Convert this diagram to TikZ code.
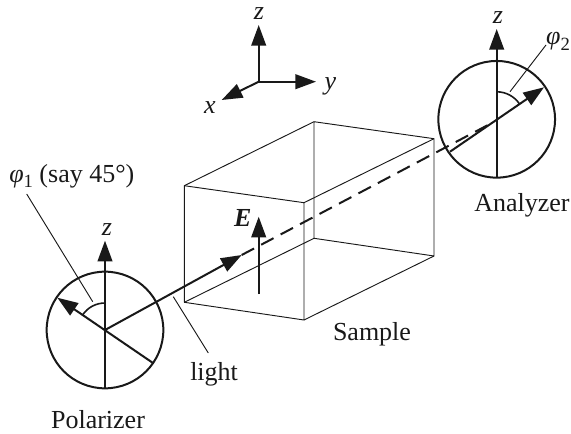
\documentclass[tikz,border=0pt]{standalone}
\usepackage{fontspec}
\setmainfont{Liberation Serif}
\usetikzlibrary{arrows.meta,calc}
\tikzset{
  thin line/.style={line width=0.7pt,draw=black!90},
  thick line/.style={line width=1.5pt,draw=black!90},
  vec/.style={thick line,-{Triangle[length=15.5pt,width=11pt]}},
  disc/.style={circle,draw=black!90,line width=1.5pt,minimum size=87.5pt,inner sep=0pt},
  lbl/.style={inner sep=0pt,font=\fontsize{19.5}{22}\selectfont,text=black!90},
  lblb/.style={lbl,anchor=base},
  lblw/.style={lbl,anchor=base west}
}
\newcommand{\subdigit}[1]{\raisebox{-0.2em}{\fontsize{14}{16}\selectfont #1}}
\begin{document}
\begin{tikzpicture}[x=0.75pt,y=0.75pt]
\useasboundingbox (0,0) rectangle (571,433);
% axes
\coordinate (o) at (258.7,351.3);
\coordinate (oz) at (258.7,408);
\coordinate (oy) at (316,351.3);
\coordinate (ox) at (221.7,333);
\draw[vec] (o) -- (oz);
\draw[vec] (o) -- (oy);
\draw[vec] (o) -- (ox);
\node[lblb] (lz) at (259,413.5) {\textit{z}};
\node[lblb] (ly) at (330.5,343.5) {\textit{y}};
\node[lblb] (lx) at (210,320) {\textit{x}};
% box
\coordinate (ftl) at (184.3,247.3);
\coordinate (fbl) at (184.3,130.7);
\coordinate (ftr) at (304,230.3);
\coordinate (fbr) at (304,113);
\coordinate (btl) at (314,311.3);
\coordinate (bbl) at (314,194.7);
\coordinate (btr) at (434,294.3);
\coordinate (bbr) at (434,177);
\draw[thin line,line join=round] (ftl) -- (ftr) -- (fbr) -- (fbl) -- cycle;
\draw[thin line,line join=round] (btl) -- (btr) -- (bbr) -- (bbl) -- cycle;
\draw[thin line] (ftl) -- (btl) (ftr) -- (btr) (fbl) -- (bbl) (fbr) -- (bbr);
% polarizer
\node[disc] (pol) at (105,103) {};
\coordinate (pc) at (105,103);
\coordinate (pz) at (105,192.3);
\coordinate (pb) at (105,45);
\coordinate (pv) at (57.3,135.3);
\coordinate (pl) at (153,70);
\draw[vec] (pb) -- (pz);
\draw[vec] (pl) -- (pv);
\draw[thick line,line width=1.2pt] ($(pc)+(90:27)$) arc[start angle=90,end angle=146,radius=20.25pt];
\node[lblb] (lpz) at (107,197.3) {\textit{z}};
% analyzer
\node[disc] (ana) at (496.7,313.7) {};
\coordinate (ac) at (496.7,313.7);
\coordinate (az) at (496.7,404);
\coordinate (ab) at (496.7,255.8);
\coordinate (av) at (544,345.7);
\coordinate (al) at (450,281.3);
\draw[vec] (ab) -- (az);
\draw[vec] (al) -- (av);
\draw[thick line,line width=1.2pt] ($(ac)+(90:27.5)$) arc[start angle=90,end angle=34,radius=20.6pt];
\node[lblb] (laz) at (498,409) {\textit{z}};
% light
\coordinate (lt) at (241.7,178);
\coordinate (de) at (488,308);
\draw[vec] (pc) -- (lt);
\draw[thick line,dash pattern=on 10.5pt off 6pt] (lt) -- (de);
% E
\coordinate (eb) at (258.7,139);
\coordinate (et) at (258.7,216.3);
\draw[vec] (eb) -- (et);
\node[lblb] (le) at (242.7,206.3) {\textbf{\textit{E}}};
% labels
\node[lblw] (phi1) at (9,251) {\textit{φ}\subdigit{1} (say 45°)};
\node[lblb] (phi2) at (558,388) {\textit{φ}\subdigit{2}};
\node[lblw] (light) at (190,52.3) {light};
\node[lblb] (sample) at (372,93) {Sample};
\node[lblb] (analyzer) at (522,222) {Analyzer};
\node[lblb] (polarizer) at (98,5) {Polarizer};
% leaders
\coordinate (l1a) at (26.7,239);
\coordinate (l1b) at (92.7,131.3);
\coordinate (l2a) at (173.3,136.3);
\coordinate (l2b) at (208.3,80);
\coordinate (l3a) at (546,388);
\coordinate (l3b) at (510,341.3);
\draw[thin line] (l1a) -- (l1b);
\draw[thin line] (l2a) -- (l2b);
\draw[thin line] (l3a) -- (l3b);
\end{tikzpicture}
\end{document}
